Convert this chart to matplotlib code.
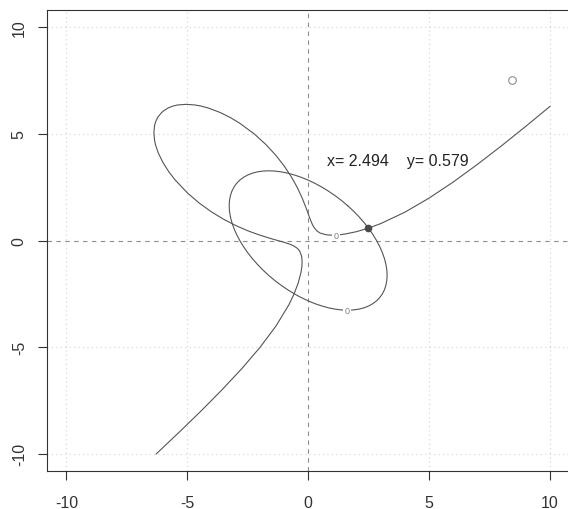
import matplotlib
matplotlib.use('Agg')
import matplotlib.pyplot as plt

plt.rcParams['font.family'] = ['Liberation Sans', 'DejaVu Sans']

# curve 1 (cubic, level 0), in drawing order
curve1_x = [-6.283, -5.35, -4.44, -3.567, -2.741, -1.986, -1.326, -0.792, -0.581, -0.414,
            -0.297, -0.2623, -0.249, -0.267, -0.347, -0.4375, -0.600, -0.752, -0.951, -1.1025,
            -1.26, -1.35, -1.5, -2.0, -2.5, -3.0, -3.5, -4.0, -4.5, -5.0,
            -5.5, -5.75, -6.0, -6.2, -6.3, -6.35, -6.38, -6.35, -6.3, -6.23,
            -6.2, -6.055, -6.027,
            -6.0, -5.805, -5.75, -5.585, -5.40, -5.05, -4.675, -4.436, -4.109, -3.644,
            -3.201, -2.836, -2.236, -1.750, -1.342, -0.997, -0.704, -0.457, -0.251, -0.076,
            -0.0284, 0.0, 0.05, 0.1, 0.175, 0.25, 0.375, 0.5, 0.75, 1.0,
            1.25, 1.5, 2.0, 2.5, 3.0, 4.0, 5.0, 6.0, 7.0, 8.0,
            9.0, 10.0]
curve1_y = [-10.0, -9.0, -8.0, -7.0, -6.0, -5.0, -4.0, -3.0, -2.5, -2.0,
            -1.5, -1.25, -1.0, -0.75, -0.5, -0.375, -0.25, -0.175, -0.1, -0.05,
            0.0, 0.0284, 0.076, 0.251, 0.457, 0.704, 0.997, 1.342, 1.750, 2.236,
            2.836, 3.201, 3.644, 4.109, 4.436, 4.675, 5.05, 5.40, 5.585, 5.75,
            5.805, 6.0, 6.027,
            6.055, 6.2, 6.23, 6.3, 6.35, 6.38, 6.35, 6.3, 6.2, 6.0,
            5.75, 5.5, 5.0, 4.5, 4.0, 3.5, 3.0, 2.5, 2.0, 1.5,
            1.35, 1.26, 1.1025, 0.951, 0.752, 0.600, 0.4375, 0.347, 0.267, 0.249,
            0.2623, 0.297, 0.414, 0.581, 0.792, 1.326, 1.986, 2.741, 3.567, 4.44,
            5.35, 6.283]

# curve 2 (ellipse, level 0)
curve2_x = [1.633, 1.874, 2.099, 2.309, 2.502, 2.675, 2.828, 2.960, 3.069, 3.155,
            3.216, 3.254, 3.266, 3.253, 3.216, 3.155, 3.069, 2.959, 2.828, 2.675,
            2.502, 2.309, 2.099, 1.873, 1.633, 1.380, 1.116, 0.845, 0.567, 0.284,
            0.0, -0.285, -0.568, -0.845, -1.117, -1.380, -1.633, -1.874, -2.099, -2.309,
            -2.502, -2.675, -2.828, -2.960, -3.069, -3.155, -3.216, -3.254, -3.266, -3.253,
            -3.216, -3.155, -3.069, -2.959, -2.828, -2.675, -2.502, -2.309, -2.099, -1.873,
            -1.633, -1.380, -1.116, -0.845, -0.567, -0.284, 0.0, 0.285, 0.568, 0.845,
            1.117, 1.380, 1.633]
curve2_y = [1.633, 1.380, 1.117, 0.845, 0.568, 0.285, 0.0, -0.284, -0.567, -0.845,
            -1.116, -1.380, -1.633, -1.873, -2.099, -2.309, -2.502, -2.675, -2.828, -2.959,
            -3.069, -3.155, -3.216, -3.253, -3.266, -3.254, -3.216, -3.155, -3.069, -2.960,
            -2.828, -2.675, -2.502, -2.309, -2.099, -1.874, -1.633, -1.380, -1.117, -0.845,
            -0.568, -0.285, 0.0, 0.284, 0.567, 0.845, 1.116, 1.380, 1.633, 1.873,
            2.099, 2.309, 2.502, 2.675, 2.828, 2.959, 3.069, 3.155, 3.216, 3.253,
            3.266, 3.254, 3.216, 3.155, 3.069, 2.960, 2.828, 2.675, 2.502, 2.309,
            2.099, 1.874, 1.633]

# contour label positions
label_x = [1.15, 1.6]
label_y = [0.24, -3.27]

# solution and start point
root_x, root_y = 2.494, 0.579
start_x, start_y = 8.44, 7.5
note_x, note_y = 3.72, 3.77

ticks = [-10, -5, 0, 5, 10]

fig = plt.figure(figsize=(5.68, 5.10), dpi=100)
ax = fig.add_axes([47/568, 38/510, 522.3/568, 461/510])
ax.set_xlim(-10.8, 10.8)
ax.set_ylim(-10.8, 10.8)

# grid and zero lines
for t in ticks:
    if t == 0:
        continue
    ax.axvline(t, color='#d3d3d3', lw=0.8, ls=(0, (1, 3)), zorder=0)
    ax.axhline(t, color='#d3d3d3', lw=0.8, ls=(0, (1, 3)), zorder=0)
ax.axvline(0, color='#8c8c8c', lw=0.8, ls=(0, (4, 4)), zorder=0)
ax.axhline(0, color='#8c8c8c', lw=0.8, ls=(0, (4, 4)), zorder=0)

ax.plot(curve1_x, curve1_y, color='#555555', lw=0.8, zorder=2)
ax.plot(curve2_x, curve2_y, color='#555555', lw=0.8, zorder=2)

for lx, ly in zip(label_x, label_y):
    ax.text(lx, ly, '0', fontsize=6.5, color='#808080', ha='center', va='center', zorder=3,
            bbox=dict(boxstyle='square,pad=0.15', fc='white', ec='none'))

ax.plot([root_x], [root_y], 'o', ms=4.5, color='#4a4a4a', mec='#4a4a4a', zorder=4)
ax.plot([start_x], [start_y], 'o', ms=5.5, mfc='none', mec='#8c8c8c', mew=0.8, zorder=4)

ax.text(note_x, note_y, 'x= %.3f    y= %.3f' % (root_x, root_y), fontsize=11.5,
        ha='center', va='center', color='#222222')

ax.set_xticks(ticks)
ax.set_yticks(ticks)
ax.set_xticklabels([str(t) for t in ticks])
ax.set_yticklabels([str(t) for t in ticks], rotation=90, va='center')
ax.tick_params(axis='both', length=6.5, width=0.8, color='#333333', labelsize=11.5,
               labelcolor='#333333')
ax.tick_params(axis='x', pad=11)
ax.tick_params(axis='y', pad=8)
for s in ax.spines.values():
    s.set_color('#333333')
    s.set_linewidth(0.8)

fig.savefig('out.png', dpi=100)
